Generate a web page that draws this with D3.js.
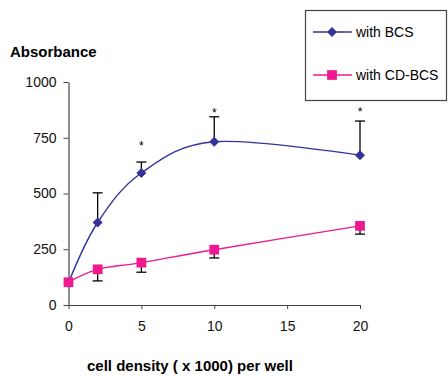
<!DOCTYPE html>
<html>
<head>
<meta charset="utf-8">
<script src="https://cdn.jsdelivr.net/npm/d3@7"></script>
<style>
  body { margin: 0; background: #fff; }
  svg { display: block; font-family: "Liberation Sans", Arial, sans-serif; }
</style>
</head>
<body>
<svg id="chart" width="448" height="376"></svg>
<script>
// cell density (x 1000) per well
const density = [0, 2, 5, 10, 20];
// absorbance, with BCS (error bars drawn upward)
const bcs = [100, 370, 592, 732, 672];
const bcsErr = [0, 133, 49, 112, 153];
// absorbance, with CD-BCS (error bars drawn downward)
const cdBcs = [102, 160, 190, 248, 355];
const cdBcsErr = [0, 52, 43, 37, 37];
// significance marks (*) and the absorbance level at which each sits
const starAt = [null, null, 728, 876, 880];
const xTicks = [0, 5, 10, 15, 20];
const yTicks = [0, 250, 500, 750, 1000];

const svg = d3.select('#chart');
const margin = { top: 82, right: 88, bottom: 71, left: 68.5 };
const W = 448, H = 376;

const x = d3.scaleLinear().domain([0, 20]).range([margin.left, W - margin.right]);
const y = d3.scaleLinear().domain([0, 1000]).range([H - margin.bottom, margin.top]);

// axes
const xAxis = svg.append('g')
  .attr('transform', `translate(0,${y(0)})`)
  .call(d3.axisBottom(x).tickValues(xTicks).tickFormat(d3.format('d'))
    .tickSize(4).tickPadding(12).tickSizeOuter(0));
const yAxis = svg.append('g')
  .attr('transform', `translate(${x(0)},0)`)
  .call(d3.axisLeft(y).tickValues(yTicks).tickFormat(d3.format('d'))
    .tickSize(5).tickPadding(7).tickSizeOuter(0));

[xAxis, yAxis].forEach(g => {
  g.select('.domain').attr('stroke', '#444').attr('stroke-width', 1.2);
  g.selectAll('.tick line').attr('stroke', '#444');
  g.selectAll('.tick text').attr('fill', '#111').style('font-size', '14px')
    .style('font-family', '"Liberation Sans", Arial, sans-serif');
});

// axis titles
svg.append('text').attr('x', 10).attr('y', 57)
  .style('font-weight', 'bold').style('font-size', '15px').text('Absorbance');
svg.append('text').attr('x', 87).attr('y', 371)
  .style('font-weight', 'bold').style('font-size', '15px').text('cell density ( x 1000) per well');

const series = [
  { values: bcs, err: bcsErr, dir: 1, color: '#333399', marker: d3.symbolSquare, size: 50, rot: 45 },
  { values: cdBcs, err: cdBcsErr, dir: -1, color: '#ee1a8f', marker: d3.symbolSquare, size: 95, rot: 0 }
];

const line = d3.line().curve(d3.curveCardinal.tension(0));

series.forEach(s => {
  const pts = density.map((d, i) => [x(d), y(s.values[i])]);

  // error bars
  const eb = svg.append('g').attr('stroke', '#000').attr('stroke-width', 1.3);
  density.forEach((d, i) => {
    if (!s.err[i]) return;
    const end = y(s.values[i] + s.dir * s.err[i]);
    eb.append('line').attr('x1', x(d)).attr('x2', x(d)).attr('y1', y(s.values[i])).attr('y2', end);
    eb.append('line').attr('x1', x(d) - 5).attr('x2', x(d) + 5).attr('y1', end).attr('y2', end);
  });

  svg.append('path').attr('d', line(pts))
    .attr('fill', 'none').attr('stroke', s.color).attr('stroke-width', 1.4);

  svg.append('g').selectAll('path').data(pts).join('path')
    .attr('transform', p => `translate(${p[0]},${p[1]}) rotate(${s.rot})`)
    .attr('d', d3.symbol(s.marker, s.size))
    .attr('fill', s.color);
});

// significance asterisks
svg.append('g').selectAll('text')
  .data(density.map((d, i) => i).filter(i => starAt[i] != null))
  .join('text')
  .attr('x', i => x(density[i]))
  .attr('y', i => y(starAt[i]) + 7)
  .attr('text-anchor', 'middle')
  .style('font-size', '12px')
  .text('*');

// legend
const lg = svg.append('g');
lg.append('rect').attr('x', 305.5).attr('y', 10.5).attr('width', 141).attr('height', 90)
  .attr('fill', '#fff').attr('stroke', '#444').attr('stroke-width', 1.2);
series.forEach((s, i) => {
  const ly = 32 + i * 43;
  lg.append('line').attr('x1', 313).attr('x2', 352).attr('y1', ly).attr('y2', ly)
    .attr('stroke', s.color).attr('stroke-width', 1.4);
  lg.append('path').attr('transform', `translate(332,${ly}) rotate(${s.rot})`)
    .attr('d', d3.symbol(s.marker, s.size)).attr('fill', s.color);
  lg.append('text').attr('x', 356).attr('y', ly + 5).style('font-size', '14px')
    .text(i === 0 ? 'with BCS' : 'with CD-BCS');
});
</script>
</body>
</html>
